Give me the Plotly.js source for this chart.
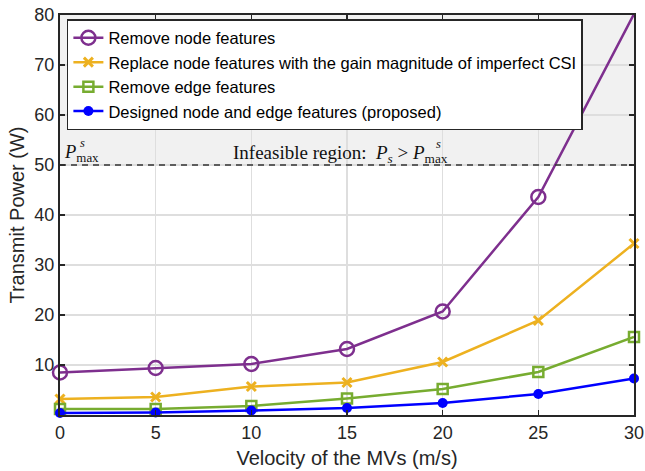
<!DOCTYPE html>
<html>
<head>
<meta charset="utf-8">
<script src="https://cdn.plot.ly/plotly-3.0.1.min.js"></script>
<style>
  html, body { margin: 0; padding: 0; background: #fff; }
  #chart { width: 645px; height: 471px; }
</style>
</head>
<body>
<div id="chart"></div>
<script>
// Velocity of the MVs (m/s)
const velocity = [0, 5, 10, 15, 20, 25, 30];

// Transmit power (W) for each feature configuration
const removeNode = [8.5, 9.4, 10.2, 13.2, 20.7, 43.6, 80.2];
const replaceNode = [3.2, 3.6, 5.7, 6.5, 10.6, 18.9, 34.3];
const removeEdge = [1.2, 1.2, 1.8, 3.3, 5.2, 8.6, 15.6];
const proposed = [0.4, 0.5, 0.9, 1.4, 2.4, 4.2, 7.3];

const seriesNames = [
  'Remove node features',
  'Replace node features with the gain magnitude of imperfect CSI',
  'Remove edge features',
  'Designed node and edge features (proposed)'
];

// Power budget P^s_max
const pMax = 50;
const yTop = 80;

const xTicks = [0, 5, 10, 15, 20, 25, 30];
const yTicks = [10, 20, 30, 40, 50, 60, 70, 80];

const colors = ['#7E2F8E', '#EDB120', '#77AC30', '#0000FF'];

const traces = [
  {
    x: velocity, y: removeNode, name: seriesNames[0], mode: 'lines+markers',
    line: { color: colors[0], width: 2.5 },
    marker: { symbol: 'circle-open', size: 14, color: colors[0], line: { width: 2.5, color: colors[0] } },
    cliponaxis: false
  },
  {
    x: velocity, y: replaceNode, name: seriesNames[1], mode: 'lines+markers',
    line: { color: colors[1], width: 2.5 },
    marker: { symbol: 'x-thin-open', size: 9, color: colors[1], line: { width: 3, color: colors[1] } },
    cliponaxis: false
  },
  {
    x: velocity, y: removeEdge, name: seriesNames[2], mode: 'lines+markers',
    line: { color: colors[2], width: 2.5 },
    marker: { symbol: 'square-open', size: 10, color: colors[2], line: { width: 2.5, color: colors[2] } },
    cliponaxis: false
  },
  {
    x: velocity, y: proposed, name: seriesNames[3], mode: 'lines+markers',
    line: { color: colors[3], width: 2.5 },
    marker: { symbol: 'circle', size: 10, color: colors[3] },
    cliponaxis: false
  }
];

const serif = 'Liberation Serif, DejaVu Serif, serif';
const sans = 'Liberation Sans, Arial, sans-serif';

const layout = {
  width: 645,
  height: 471,
  margin: { l: 60, r: 11, t: 15, b: 56 },
  paper_bgcolor: '#ffffff',
  plot_bgcolor: '#ffffff',
  font: { family: sans, color: '#262626' },
  showlegend: true,
  legend: {
    x: 0.012, y: 0.99, xanchor: 'left', yanchor: 'top',
    bgcolor: '#ffffff', bordercolor: '#262626', borderwidth: 1.5,
    font: { size: 16.5, color: '#000000' },
    tracegroupgap: 0
  },
  xaxis: {
    range: [0, 30],
    tickvals: xTicks,
    ticktext: xTicks.map(String),
    ticks: 'inside', ticklen: 5, tickwidth: 1.5, tickcolor: '#262626',
    showgrid: true, gridcolor: '#dedede', gridwidth: 1.5,
    showline: true, linecolor: '#262626', linewidth: 2, mirror: 'ticks',
    zeroline: false,
    automargin: false,
    tickfont: { size: 18, color: '#262626' },
    title: { text: 'Velocity of the MVs (m/s)', font: { size: 20, color: '#262626' }, standoff: 9 }
  },
  yaxis: {
    range: [0, yTop],
    tickvals: yTicks,
    ticktext: yTicks.map(String),
    ticks: 'inside', ticklen: 5, tickwidth: 1.5, tickcolor: '#262626',
    showgrid: true, gridcolor: '#dedede', gridwidth: 1.5,
    showline: true, linecolor: '#262626', linewidth: 2, mirror: 'ticks',
    zeroline: false,
    automargin: false,
    tickfont: { size: 18, color: '#262626' },
    title: { text: 'Transmit Power (W)', font: { size: 20, color: '#262626' }, standoff: 4 }
  },
  shapes: [
    {
      type: 'rect', xref: 'paper', yref: 'y', x0: 0, x1: 1, y0: pMax, y1: yTop,
      fillcolor: 'rgba(200,200,200,0.25)', line: { width: 0 }, layer: 'below'
    },
    {
      type: 'line', xref: 'paper', yref: 'y', x0: 0, x1: 1, y0: pMax, y1: pMax,
      line: { color: '#333333', width: 1.5, dash: '6px,5px' }
    }
  ],
  annotations: [
    {
      xref: 'paper', yref: 'y', x: 0.004, y: 52.3, xanchor: 'left', yanchor: 'middle',
      text: '<i>P</i><sub>max</sub>', showarrow: false,
      font: { family: serif, size: 18.5, color: '#111111' }
    },
    {
      xref: 'paper', yref: 'y', x: 0.031, y: 54.4, xanchor: 'left', yanchor: 'middle',
      text: '<i>s</i>', showarrow: false,
      font: { family: serif, size: 12.5, color: '#111111' }
    },
    {
      xref: 'paper', yref: 'y', x: 0.298, y: 52.3, xanchor: 'left', yanchor: 'middle',
      text: 'Infeasible region:  <i>P</i><sub><i>s</i></sub> > <i>P</i><sub>max</sub>', showarrow: false,
      font: { family: serif, size: 19, color: '#111111' }
    },
    {
      xref: 'paper', yref: 'y', x: 0.652, y: 54.3, xanchor: 'left', yanchor: 'middle',
      text: '<i>s</i>', showarrow: false,
      font: { family: serif, size: 12.5, color: '#111111' }
    }
  ]
};

Plotly.newPlot('chart', traces, layout, { displayModeBar: false, staticPlot: true });
</script>
</body>
</html>
